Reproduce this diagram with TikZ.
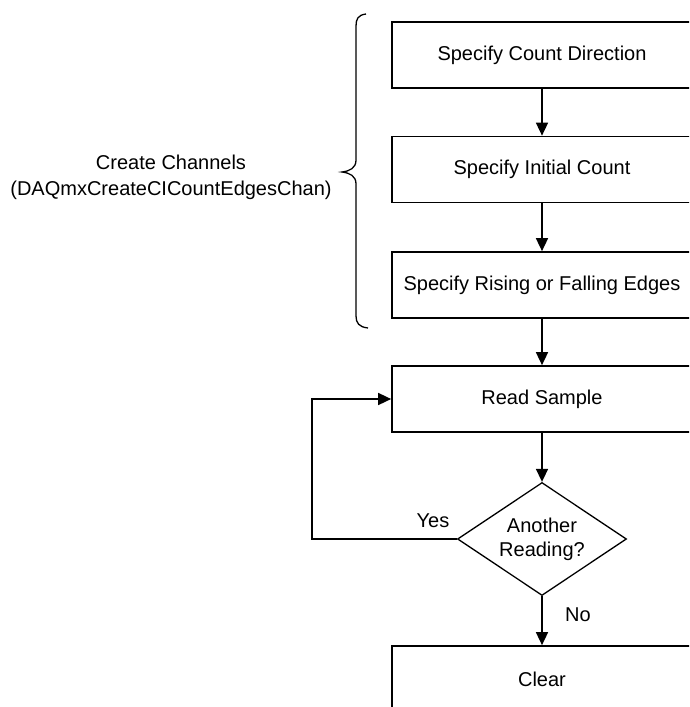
\documentclass[tikz,border=0pt]{standalone}
\usepackage{fontspec}
\setmainfont{Liberation Sans}
\usetikzlibrary{shapes.geometric,arrows.meta}
\begin{document}
\begin{tikzpicture}[x=1pt,y=-1pt,
  every node/.style={font=\fontsize{20}{26}\selectfont},
  stepbox/.style={draw,line width=1.7pt,rectangle,minimum width=300pt,minimum height=66pt,inner sep=0pt},
  decision/.style={draw,line width=1.3pt,diamond,minimum width=169pt,minimum height=113pt,inner sep=0pt},
  flow/.style={line width=1.6pt,-{Triangle[width=12pt,length=13pt]}},
  lbl/.style={inner sep=0pt}]
\useasboundingbox (0,0) rectangle (689,707);
\clip (0,0) rectangle (689,707);
\node[stepbox] (b1) at (542,55) {Specify Count Direction};
\node[stepbox] (b2) at (542,169.5) {Specify Initial Count};
\node[stepbox] (b3) at (542,285) {Specify Rising or Falling Edges};
\node[stepbox] (b4) at (542,399) {Read Sample};
\node[decision] (dec) at (542,539) {};
\node[lbl,align=center,font=\fontsize{20}{24}\selectfont] (dect) at (dec) {Another\\Reading?};
\node[stepbox] (b5) at (542,679) {Clear};
\draw[flow] (b1) -- (b2);
\draw[flow] (b2) -- (b3);
\draw[flow] (b3) -- (b4);
\draw[flow] (b4) -- (dec);
\draw[flow] (dec) -- (b5);
\coordinate (lp) at (312,539);
\draw[flow] (dec.west) -- (lp) |- (b4.west);
\node[lbl] (yes) at (433,521) {Yes};
\node[lbl] (no) at (578,615) {No};
\draw[line width=1.3pt] (366,14) .. controls (358,15) and (356,19) .. (356,26)
  -- (356,160) .. controls (356,168) and (350,171) .. (342,172)
  .. controls (350,173) and (356,176) .. (356,184)
  -- (356,316) .. controls (356,323) and (359,327) .. (368,328);
\node[align=center,inner sep=0pt] (cc) at (171,177) {Create Channels\\(DAQmxCreateCICountEdgesChan)};
\end{tikzpicture}
\end{document}
